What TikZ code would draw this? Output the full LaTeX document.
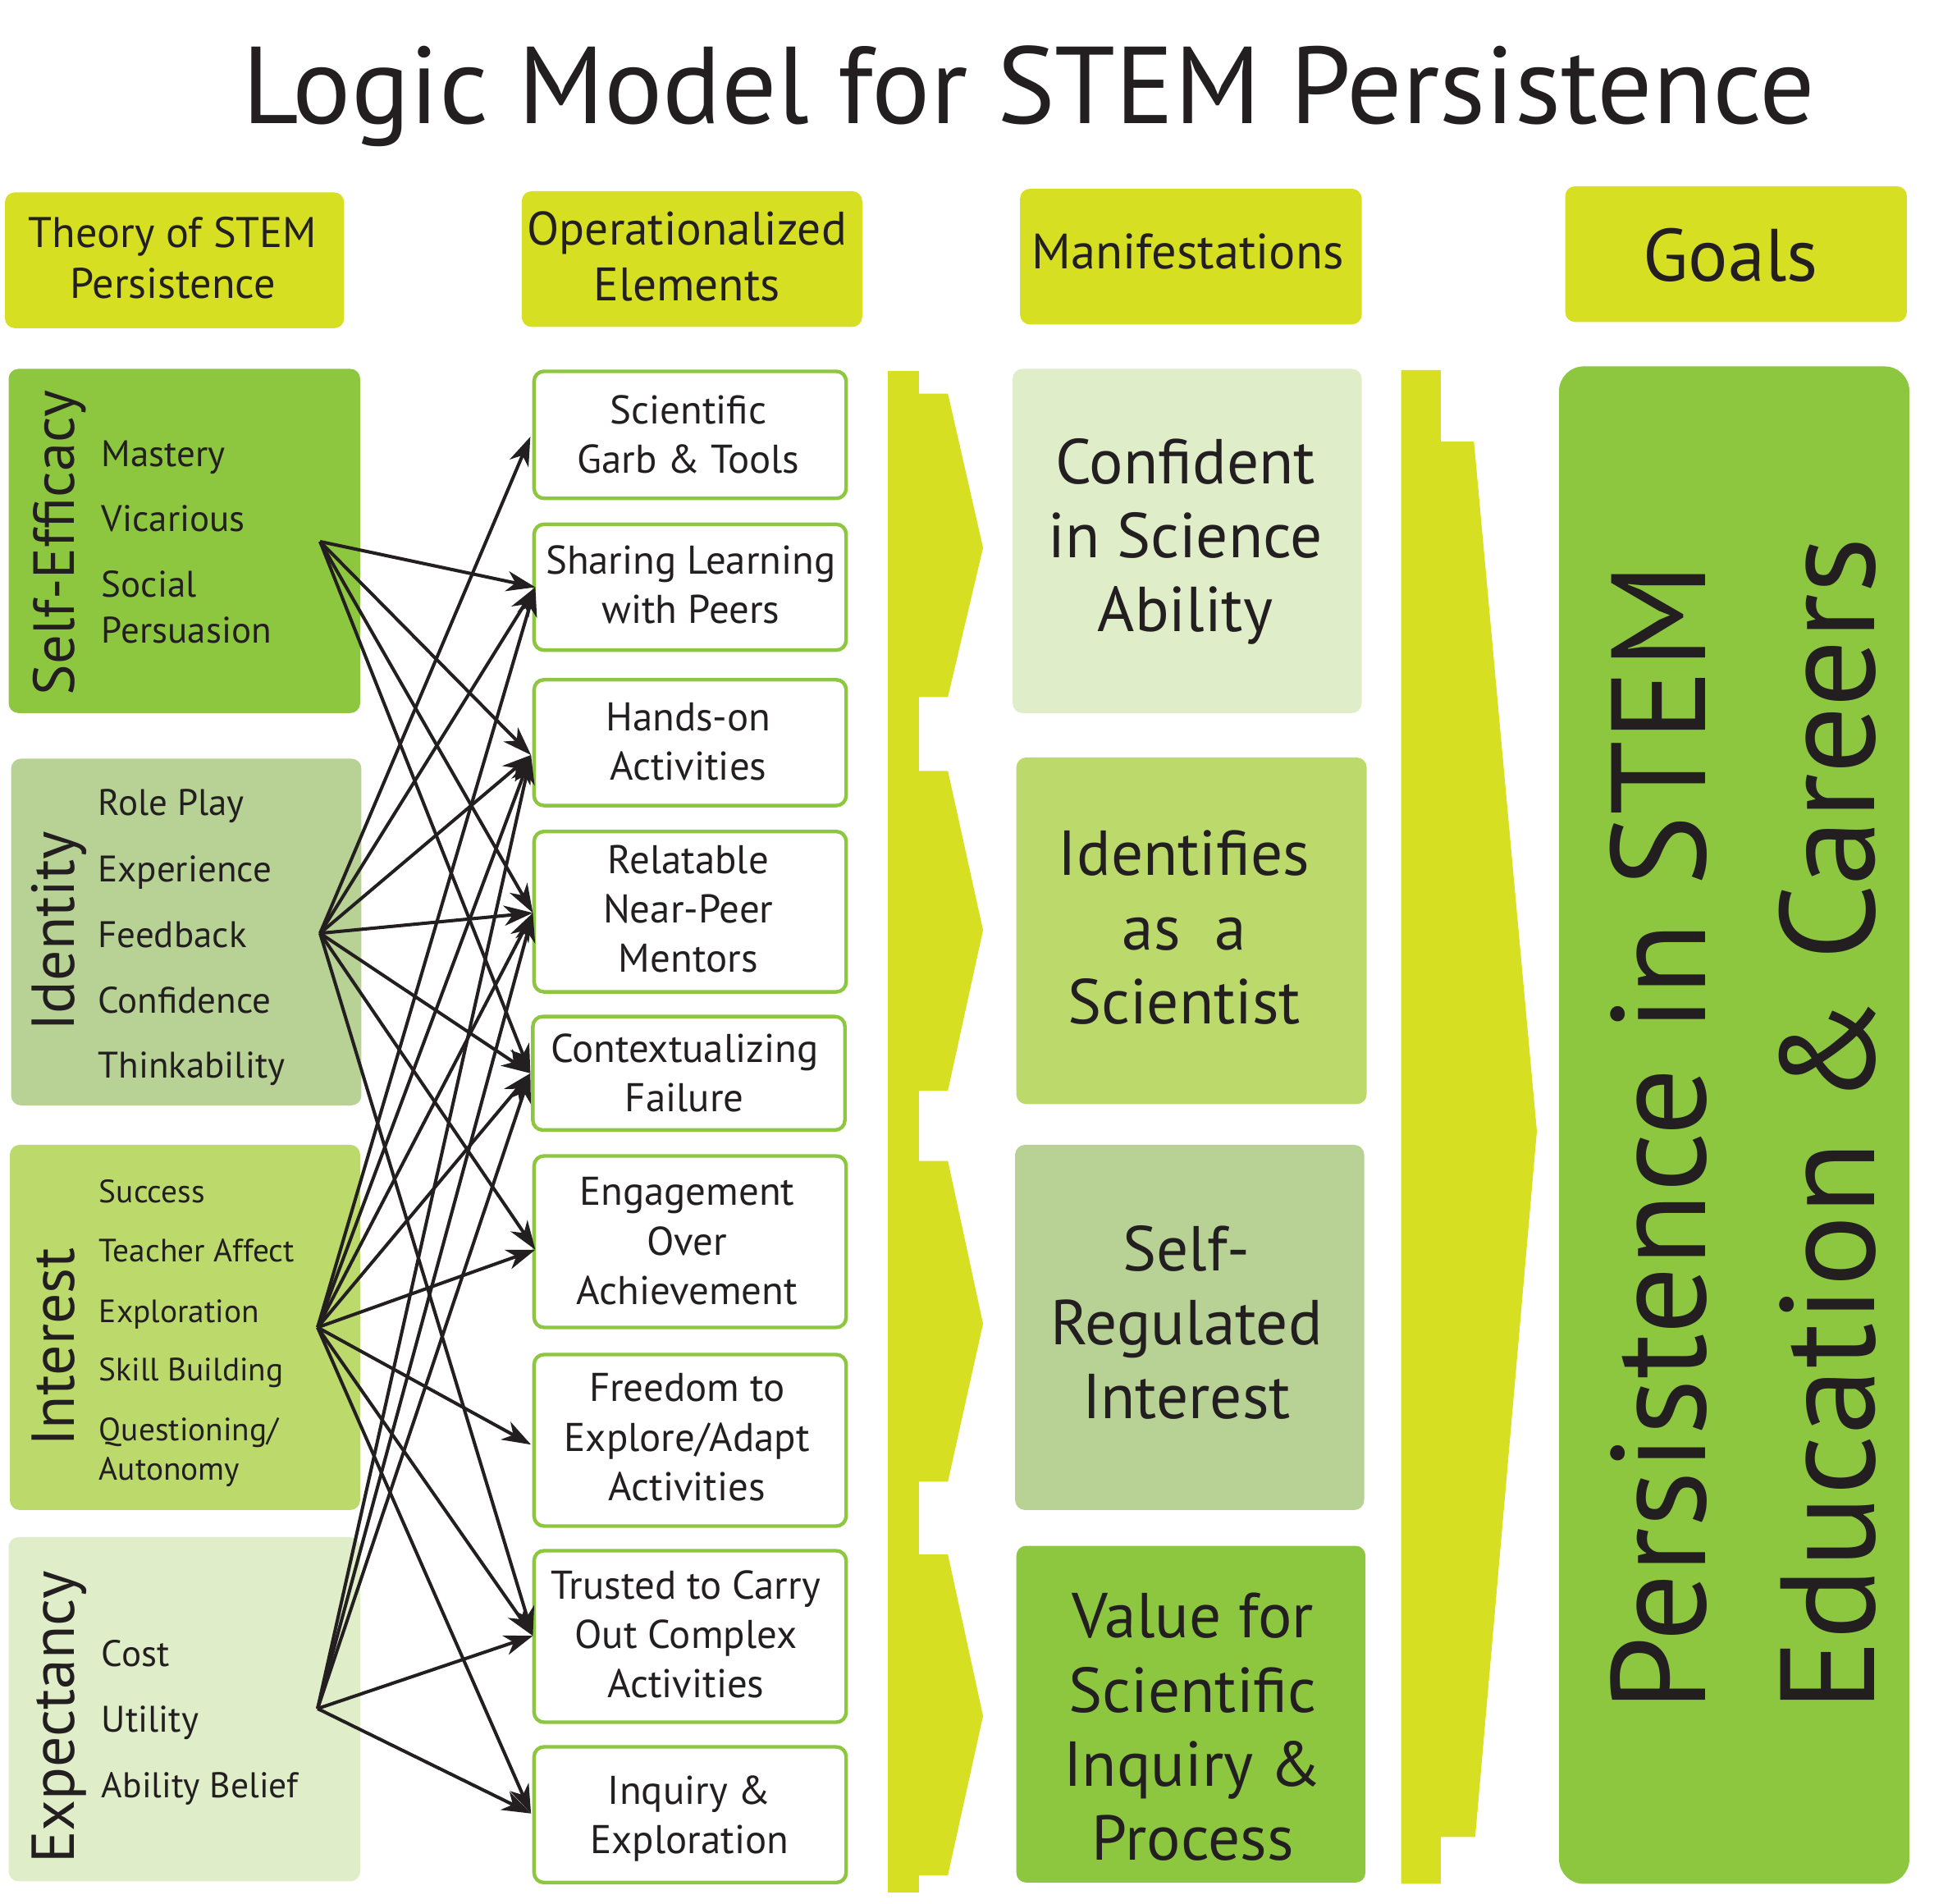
\documentclass[tikz,border=0pt]{standalone}
\usepackage{fontspec}
\setmainfont{PT Sans}
\usetikzlibrary{arrows.meta,fit}
\definecolor{ygreen}{RGB}{214,223,34}
\definecolor{mgreen}{RGB}{141,198,63}
\definecolor{olive}{RGB}{183,210,148}
\definecolor{lgreen}{RGB}{188,218,108}
\definecolor{pale}{RGB}{223,237,201}
\definecolor{ink}{RGB}{35,31,32}
\begin{document}
\begin{tikzpicture}[x=0.01503cm,y=-0.01503cm,
  every node/.style={text=ink},
  box/.style={inner sep=0pt, outer sep=0pt, rounded corners=0.12cm},
  hdr/.style={box, fill=ygreen},
  txt/.style={inner sep=0pt, align=center},
  hdrtxt/.style={txt, font=\fontsize{15.3}{18.5}\selectfont},
  opbox/.style={inner sep=0pt, outer sep=0pt, draw=mgreen, line width=1.25pt, fill=white, rounded corners=0.12cm},
  optxt/.style={txt, font=\fontsize{13.9}{17.1}\selectfont},
  mantxt/.style={txt, font=\fontsize{22}{25.7}\selectfont},
  cat/.style={rotate=90, anchor=base, inner sep=0pt, font=\fontsize{21}{24}\selectfont},
  item/.style={anchor=base west, inner sep=0pt, font=\fontsize{12.8}{15}\selectfont},
  smitem/.style={item, font=\fontsize{11.2}{14}\selectfont},
  goal/.style={rotate=90, anchor=base west, inner sep=0pt, font=\fontsize{46.5}{50}\selectfont},
  arr/.style={draw=ink, line width=1.15pt, -{Stealth[length=10pt,width=7pt,inset=3pt]}},
  band/.style={fill=ygreen}
]
\useasboundingbox (0,0) rectangle (1568,1543);

% title
\node[anchor=base, inner sep=0pt, font=\fontsize{37.9}{40}\selectfont] (title) at (834,100) {Logic Model for STEM Persistence};

% headers
\node[hdr, fit={(4,156)(279,266)}] (h1) {};
\node[hdr, fit={(423,155)(699,265)}] (h2) {};
\node[hdr, fit={(827,153)(1104,263)}] (h3) {};
\node[hdr, fit={(1269,151)(1546,261)}] (h4) {};
\node[hdrtxt, font=\fontsize{14.85}{17.8}\selectfont] (h1t) at (140,209) {Theory of STEM\\Persistence};
\node[hdrtxt, font=\fontsize{16.3}{19.5}\selectfont] (h2t) at (557,208) {Operationalized\\Elements};
\node[hdrtxt, font=\fontsize{17.2}{19}\selectfont] (h3t) at (963,204) {Manifestations};
\node[hdrtxt, font=\fontsize{25.7}{28}\selectfont] (h4t) at (1403,207) {Goals};

% chevron bands
\fill[band] (720,301) rectangle (745,1534);
\fill[band] (744,319) -- (768.5,319) -- (797,444) -- (768.5,565) -- (744,565) -- cycle;
\fill[band] (744,625) -- (768.5,625) -- (797,754) -- (768.5,884) -- (744,884) -- cycle;
\fill[band] (744,941) -- (768.5,941) -- (797,1073) -- (768.5,1201) -- (744,1201) -- cycle;
\fill[band] (744,1260) -- (768.5,1260) -- (797,1391) -- (768.5,1520) -- (744,1520) -- cycle;
\fill[band] (1136,300) -- (1168,300) -- (1168,358) -- (1195,358) -- (1246,917) -- (1196,1489) -- (1168,1489) -- (1168,1527) -- (1136,1527) -- cycle;

% left theory boxes
\node[box, fill=mgreen, fit={(7,299)(292,578)}] (se) {};
\node[box, fill=olive, fit={(9,615)(293,896)}] (id) {};
\node[box, fill=lgreen, fit={(8,928)(292,1224)}] (in) {};
\node[box, fill=pale, fit={(7,1246)(292,1525)}] (ex) {};

\node[cat, font=\fontsize{20.1}{24}\selectfont] (seL) at (60,440) {Self-Efficacy};
\node[cat] (idL) at (60,755) {Identity};
\node[cat] (inL) at (60,1092) {Interest};
\node[cat] (exL) at (60,1392) {Expectancy};

\node[item] (se1) at (82,378) {Mastery};
\node[item] (se2) at (82,431) {Vicarious};
\node[item] (se3) at (82,484) {Social};
\node[item] (se4) at (82,521) {Persuasion};

\node[item] (id1) at (79,661) {Role Play};
\node[item] (id2) at (79,715) {Experience};
\node[item] (id3) at (79,768) {Feedback};
\node[item] (id4) at (79,821) {Confidence};
\node[item] (id5) at (79,874) {Thinkability};

\node[smitem] (in1) at (80,975) {Success};
\node[smitem] (in2) at (80,1023) {Teacher Affect};
\node[smitem] (in3) at (80,1072) {Exploration};
\node[smitem] (in4) at (80,1119) {Skill Building};
\node[smitem] (in5) at (80,1168) {Questioning/};
\node[smitem] (in6) at (80,1200) {Autonomy};

\node[item] (ex1) at (82,1351) {Cost};
\node[item] (ex2) at (82,1404) {Utility};
\node[item, font=\fontsize{12.4}{15}\selectfont] (ex3) at (82,1457) {Ability Belief};

% operationalized elements
\node[opbox, fit={(433,301)(686,404)}] (o1) {};
\node[opbox, fit={(433,425)(686,527)}] (o2) {};
\node[opbox, fit={(433,551)(686,653)}] (o3) {};
\node[opbox, fit={(433,674)(686,804)}] (o4) {};
\node[opbox, fit={(432,824)(685,916)}] (o5) {};
\node[opbox, fit={(433,937)(686,1076)}] (o6) {};
\node[opbox, fit={(433,1098)(686,1237)}] (o7) {};
\node[opbox, fit={(433,1257)(686,1396)}] (o8) {};
\node[opbox, fit={(433,1416)(686,1526)}] (o9) {};
\node[optxt] (o1t) at (558,352) {Scientific\\Garb \& Tools};
\node[optxt] (o2t) at (560,474) {Sharing Learning\\with Peers};
\node[optxt] (o3t) at (558,601) {Hands-on\\Activities};
\node[optxt] (o4t) at (558,737) {Relatable\\Near-Peer\\Mentors};
\node[optxt] (o5t) at (555,870) {Contextualizing\\Failure};
\node[optxt] (o6t) at (557,1006) {Engagement\\Over\\Achievement};
\node[optxt] (o7t) at (557,1165) {Freedom to\\Explore/Adapt\\Activities};
\node[optxt] (o8t) at (556,1325) {Trusted to Carry\\Out Complex\\Activities};
\node[optxt] (o9t) at (559,1474) {Inquiry \&\\Exploration};

% manifestations
\node[box, fill=pale, fit={(821,299)(1104,578)}] (m1) {};
\node[box, fill=lgreen, fit={(824,614)(1108,895)}] (m2) {};
\node[box, fill=olive, fit={(823,928)(1106,1224)}] (m3) {};
\node[box, fill=mgreen, fit={(824,1253)(1107,1526)}] (m4) {};
\node[mantxt] (m1t) at (961,439) {Confident\\in Science\\Ability};
\node[mantxt] (m2t) at (960,752) {Identifies\\as\ \ a\\Scientist};
\node[mantxt] (m3t) at (962,1072) {Self-\\Regulated\\Interest};
\node[mantxt] (m4t) at (967,1400) {Value for\\Scientific\\Inquiry \&\\Process};

% goals
\node[fill=mgreen, inner sep=0pt, rounded corners=0.3cm, fit={(1264,297)(1548,1527)}] (g) {};
\node[goal] (g1) at (1383,1388) {Persistence in STEM};
\node[goal] (g2) at (1520,1388) {Education \& Careers};

% arrow ends
\coordinate (sS) at (259.5,439);
\coordinate (iS) at (259.5,756.5);
\coordinate (nS) at (257.5,1076);
\coordinate (xS) at (257.5,1385);
\coordinate (t1) at (430,354);
\coordinate (t2) at (434,476);
\coordinate (t3) at (430.5,612);
\coordinate (t4) at (432,740);
\coordinate (t5) at (430,870);
\coordinate (t6) at (434,1013);
\coordinate (t7) at (430.5,1171);
\coordinate (t8) at (432,1326);
\coordinate (t9) at (430.5,1470);

\foreach \t in {t2,t3,t4,t5} \draw[arr] (sS) -- (\t);
\foreach \t in {t1,t2,t3,t4,t5,t6,t8} \draw[arr] (iS) -- (\t);
\foreach \t in {t2,t3,t4,t5,t6,t7,t8,t9} \draw[arr] (nS) -- (\t);
\foreach \t in {t3,t4,t5,t8,t9} \draw[arr] (xS) -- (\t);
\end{tikzpicture}
\end{document}
